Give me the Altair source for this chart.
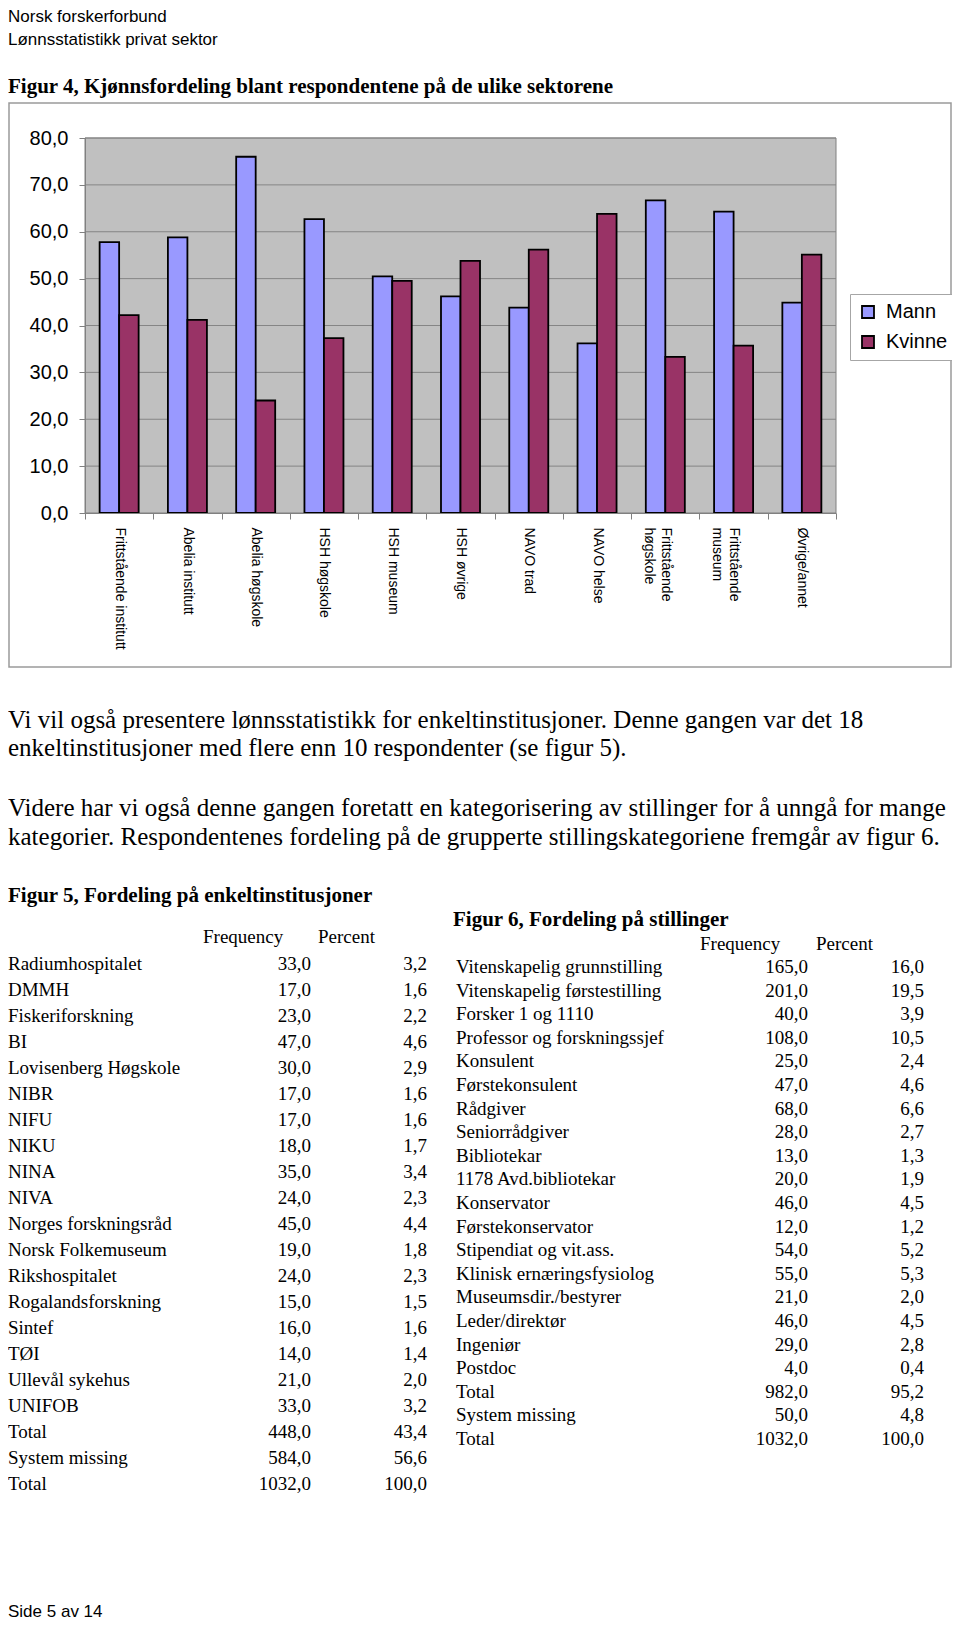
import altair as alt
import pandas as pd

SANS = "Liberation Sans"
SERIF = "Liberation Serif"

# ---- data -------------------------------------------------------------
categories = ["Frittstående institutt", "Abelia institutt", "Abelia høgskole", "HSH høgskole",
              "HSH museum", "HSH øvrige", "NAVO trad", "NAVO helse",
              "Frittstående|høgskole", "Frittstående|museum", "Øvrige/annet"]
mann = [57.8, 58.8, 76.0, 62.7, 50.5, 46.2, 43.8, 36.2, 66.7, 64.3, 44.9]
kvinne = [42.2, 41.2, 24.0, 37.3, 49.5, 53.8, 56.2, 63.8, 33.3, 35.7, 55.1]
series = ["Mann", "Kvinne"]
series_colors = ["#9999FF", "#993366"]
y_ticks = [0, 10, 20, 30, 40, 50, 60, 70, 80]

header_lines = ["Norsk forskerforbund", "Lønnsstatistikk privat sektor"]
fig4_title = "Figur 4, Kjønnsfordeling blant respondentene på de ulike sektorene"
para1 = ["Vi vil også presentere lønnsstatistikk for enkeltinstitusjoner. Denne gangen var det 18",
         "enkeltinstitusjoner med flere enn 10 respondenter (se figur 5)."]
para2 = ["Videre har vi også denne gangen foretatt en kategorisering av stillinger for å unngå for mange",
         "kategorier. Respondentenes fordeling på de grupperte stillingskategoriene fremgår av figur 6."]
fig5_title = "Figur 5, Fordeling på enkeltinstitusjoner"
fig6_title = "Figur 6, Fordeling på stillinger"
col_heads = ["Frequency", "Percent"]
footer = "Side 5 av 14"

inst_names = ["Radiumhospitalet", "DMMH", "Fiskeriforskning", "BI", "Lovisenberg Høgskole", "NIBR",
              "NIFU", "NIKU", "NINA", "NIVA", "Norges forskningsråd", "Norsk Folkemuseum",
              "Rikshospitalet", "Rogalandsforskning", "Sintef", "TØI", "Ullevål sykehus", "UNIFOB",
              "Total", "System missing", "Total"]
inst_freq = [33, 17, 23, 47, 30, 17, 17, 18, 35, 24, 45, 19, 24, 15, 16, 14, 21, 33, 448, 584, 1032]
inst_pct = [3.2, 1.6, 2.2, 4.6, 2.9, 1.6, 1.6, 1.7, 3.4, 2.3, 4.4, 1.8, 2.3, 1.5, 1.6, 1.4, 2.0, 3.2,
            43.4, 56.6, 100.0]

pos_names = ["Vitenskapelig grunnstilling", "Vitenskapelig førstestilling", "Forsker 1 og 1110",
             "Professor og forskningssjef", "Konsulent", "Førstekonsulent", "Rådgiver",
             "Seniorrådgiver", "Bibliotekar", "1178 Avd.bibliotekar", "Konservator",
             "Førstekonservator", "Stipendiat og vit.ass.", "Klinisk ernæringsfysiolog",
             "Museumsdir./bestyrer", "Leder/direktør", "Ingeniør", "Postdoc", "Total",
             "System missing", "Total"]
pos_freq = [165, 201, 40, 108, 25, 47, 68, 28, 13, 20, 46, 12, 54, 55, 21, 46, 29, 4, 982, 50, 1032]
pos_pct = [16.0, 19.5, 3.9, 10.5, 2.4, 4.6, 6.6, 2.7, 1.3, 1.9, 4.5, 1.2, 5.2, 5.3, 2.0, 4.5, 2.8,
           0.4, 95.2, 4.8, 100.0]

# ---- layout ---------------------------------------------------------------
W, H = 944, 1612
PX0, PX1 = 77, 828          # plot area x range
PY0, PY1 = 505, 130         # plot area y range (0 -> 80)


def txt(s, x, y, size, font, weight="normal", align="left"):
    return alt.Chart(pd.DataFrame({"t": [s]})).mark_text(
        align=align, baseline="alphabetic", font=font, fontSize=size,
        fontWeight=weight, color="black"
    ).encode(x=alt.value(x), y=alt.value(y), text="t:N")


# frame around figure 4
frame = alt.Chart(pd.DataFrame({"a": [0]})).mark_rect(
    fill="white", stroke="#9a9a9a", strokeWidth=1.5
).encode(x=alt.value(1), x2=alt.value(943), y=alt.value(95), y2=alt.value(659))

bar_rows = []
for c, m, k in zip(categories, mann, kvinne):
    bar_rows.append({"cat": c, "kjonn": "Mann", "verdi": m})
    bar_rows.append({"cat": c, "kjonn": "Kvinne", "verdi": k})
bar_df = pd.DataFrame(bar_rows)

yscale = alt.Scale(domain=[0, 80], range=[PY0, PY1], nice=False, zero=True)
yaxis = alt.Axis(orient="left", offset=-PX0, values=y_ticks, title=None, zindex=2,
                 labelExpr="replace(format(datum.value, '.1f'), '.', ',')",
                 labelFont=SANS, labelFontSize=20, labelColor="black", labelPadding=11,
                 tickSize=6, tickColor="#808080", domainColor="#808080", grid=False)
xaxis = alt.Axis(orient="bottom", offset=PY0 - H, title=None, labelAngle=90, zindex=2,
                 labelAlign="left", labelBaseline="middle",
                 labelExpr="split(datum.label, '|')", labelLineHeight=17,
                 labelFont=SANS, labelFontSize=14, labelColor="black", labelPadding=8,
                 labelOverlap=False, tickBand="extent", tickSize=6, tickColor="#808080",
                 domainColor="#808080", grid=False)

plot_bg = alt.Chart(pd.DataFrame({"a": [0]})).mark_rect(
    fill="#C0C0C0", stroke="#808080", strokeWidth=1
).encode(x=alt.value(PX0), x2=alt.value(PX1),
         y=alt.Y(datum=0, scale=yscale, axis=yaxis), y2=alt.Y2(datum=80))

grid = alt.Chart(pd.DataFrame({"verdi": y_ticks[1:]})).mark_rule(
    color="#858585", strokeWidth=1
).encode(y=alt.Y("verdi:Q", scale=yscale, axis=yaxis), x=alt.value(PX0), x2=alt.value(PX1))

bars = alt.Chart(bar_df).mark_bar(stroke="black", strokeWidth=1.8).encode(
    x=alt.X("cat:N", sort=categories,
            scale=alt.Scale(range=[PX0, PX1], paddingInner=0, paddingOuter=0), axis=xaxis),
    xOffset=alt.XOffset("kjonn:N", sort=series,
                        scale=alt.Scale(paddingInner=0, paddingOuter=0.75)),
    y=alt.Y("verdi:Q", scale=yscale, axis=yaxis),
    color=alt.Color("kjonn:N", sort=series,
                    scale=alt.Scale(domain=series, range=series_colors),
                    legend=alt.Legend(orient="none", legendX=842, legendY=286, title=None,
                                      fillColor="white", strokeColor="#a6a6a6", padding=8,
                                      symbolType="square", symbolSize=144,
                                      symbolStrokeColor="black", symbolStrokeWidth=1.8,
                                      labelFont=SANS, labelFontSize=20, labelColor="black",
                                      labelOffset=8, rowPadding=10, zindex=3)),
)

bar_layer = alt.layer(plot_bg, grid, bars)


def table(names, freq, pct, y_first, y_last, x_name, x_freq, x_pct):
    df = pd.DataFrame({"row": list(range(len(names))), "name": names, "freq": freq, "pct": pct})
    base = alt.Chart(df).transform_calculate(
        f="replace(format(datum.freq, '.1f'), '.', ',')",
        p="replace(format(datum.pct, '.1f'), '.', ',')",
    )
    y = alt.Y("row:O", scale=alt.Scale(type="point", range=[y_first, y_last], padding=0),
              axis=None)
    style = dict(baseline="alphabetic", font=SERIF, fontSize=19, color="black")
    n = base.mark_text(align="left", **style).encode(x=alt.value(x_name), y=y, text="name:N")
    f = base.mark_text(align="right", **style).encode(x=alt.value(x_freq), y=y, text="f:N")
    p = base.mark_text(align="right", **style).encode(x=alt.value(x_pct), y=y, text="p:N")
    return alt.layer(n, f, p)


t5 = table(inst_names, inst_freq, inst_pct, 962, 1482, 0, 303, 419)
t6 = table(pos_names, pos_freq, pos_pct, 965, 1437, 448, 800, 916)

texts = [
    txt(header_lines[0], 0, 14, 17, SANS),
    txt(header_lines[1], 0, 37, 17, SANS),
    txt(fig4_title, 0, 85, 21, SERIF, "bold"),
    txt(para1[0], 0, 720, 25, SERIF),
    txt(para1[1], 0, 748, 25, SERIF),
    txt(para2[0], 0, 808, 25, SERIF),
    txt(para2[1], 0, 837, 25, SERIF),
    txt(fig5_title, 0, 894, 21, SERIF, "bold"),
    txt(col_heads[0], 195, 935, 19, SERIF),
    txt(col_heads[1], 310, 935, 19, SERIF),
    txt(fig6_title, 445, 918, 21, SERIF, "bold"),
    txt(col_heads[0], 692, 942, 19, SERIF),
    txt(col_heads[1], 808, 942, 19, SERIF),
    txt(footer, 0, 1609, 17, SANS),
]

chart = alt.layer(frame, bar_layer, t5, t6, *texts).resolve_scale(
    x="independent", y="independent"
).properties(
    width=W, height=H, autosize=alt.AutoSizeParams(type="none"), padding=0,
    background="white"
).configure_view(stroke=None)

chart.save("out.html", embed_options={"renderer": "svg", "actions": False})
